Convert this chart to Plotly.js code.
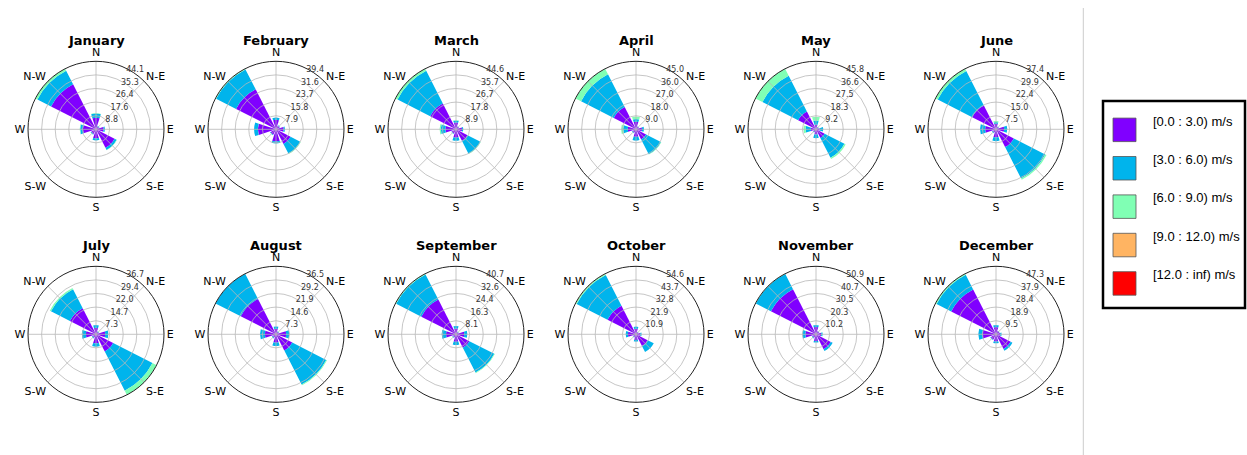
<!DOCTYPE html>
<html><head><meta charset="utf-8">
<script src="https://cdn.plot.ly/plotly-3.0.1.min.js"></script>
<style>html,body{margin:0;padding:0;background:#fff}</style>
</head><body><div id="chart" style="width:1247px;height:455px"></div>
<script>
const months = ['January','February','March','April','May','June','July','August','September','October','November','December'];
const directions = ['N','N-E','E','S-E','S','S-W','W','N-W'];
const speedBins = ['[0.0 : 3.0) m/s','[3.0 : 6.0) m/s','[6.0 : 9.0) m/s','[9.0 : 12.0) m/s','[12.0 : inf) m/s'];
const binColors = ['#8000ff','#00b4ec','#80ffb4','#ffb462','#ff0000'];

// frequency (%) per direction: N, N-E, E, S-E, S, S-W, W, N-W
const speed0to3 = [
  [7.5,2.0,5.0,13.5,6.0,3.5,8.5,32.7],
  [5.5,2.3,4.5,9.5,7.0,3.5,10.5,26.0],
  [4.5,2.0,4.0,8.5,5.5,3.0,7.0,19.0],
  [5.0,2.0,4.0,7.5,5.0,2.5,5.5,16.5],
  [3.0,1.5,2.5,6.5,3.5,2.0,3.5,13.5],
  [3.0,1.5,4.5,11.0,4.5,2.0,6.0,14.7],
  [3.5,1.5,5.0,10.4,5.0,2.0,5.5,15.8],
  [3.0,1.5,5.5,9.8,4.5,2.0,6.0,21.3],
  [3.5,1.5,5.0,9.0,4.5,2.0,6.0,23.3],
  [4.5,2.0,3.5,10.5,4.5,2.5,6.5,25.7],
  [5.5,2.5,4.0,12.5,5.0,3.0,8.0,37.9],
  [5.0,2.5,3.0,11.5,5.0,4.0,9.5,35.0]
];
const speed3to6 = [
  [2.7,0.5,0.8,1.5,1.2,0.5,1.8,9.9],
  [1.3,0.3,0.7,6.3,1.2,0.4,2.2,13.0],
  [1.3,0.3,0.8,9.5,2.0,0.5,3.0,24.0],
  [1.8,0.3,1.3,11.0,2.5,0.5,3.0,24.3],
  [3.0,0.5,2.4,15.0,2.5,0.5,3.5,27.0],
  [1.0,0.3,1.7,19.4,2.0,0.5,2.8,21.3],
  [1.5,0.3,1.7,23.8,1.7,0.5,2.2,11.5],
  [1.2,0.3,1.7,20.5,1.8,0.5,2.6,15.2],
  [1.5,0.3,1.8,16.7,1.9,0.5,2.6,16.9],
  [1.7,0.3,1.0,5.5,1.4,0.5,1.8,27.8],
  [1.5,0.3,1.0,1.5,1.2,0.5,2.2,12.7],
  [1.5,0.3,0.9,1.3,1.3,0.5,2.8,11.4]
];
const speed6to9 = [
  [0.3,0,0,0.2,0,0,0.3,1.47],
  [0,0,0,0.3,0,0,0,0.44],
  [0.3,0,0,0.2,0,0,0.8,1.58],
  [1.6,0,0,0.3,0,0,1.4,4.2],
  [2.5,0,0,0.9,0,0,1.5,5.3],
  [0.6,0,0,0.8,0,0,0,1.4],
  [0,0,0,2.5,0,0,0,0.7],
  [0,0,0,0.5,0,0,0,0.05],
  [0,0,0,0.4,0,0,0,0.5],
  [0,0,0,0,0,0,0,0.9],
  [0,0,0,0,0,0,0,0.3],
  [0,0,0,0,0,0,0,0.9]
];
const speed9to12 = [
  [0,0,0,0,0,0,0,0],[0,0,0,0,0,0,0,0],[0,0,0,0,0,0,0,0],[0,0,0,0,0,0,0,0],
  [0,0,0,0,0,0,0,0],[0,0,0,0,0,0,0,0],[0,0,0,0,0,0,0,0],[0,0,0,0,0,0,0,0],
  [0,0,0,0,0,0,0,0],[0,0,0,0,0,0,0,0.2],[0,0,0,0,0,0,0,0],[0,0,0,0,0,0,0,0]
];
const speed12up = [
  [0,0,0,0,0,0,0,0],[0,0,0,0,0,0,0,0],[0,0,0,0,0,0,0,0],[0,0,0,0,0,0,0,0],
  [0,0,0,0,0,0,0,0],[0,0,0,0,0,0,0,0],[0,0,0,0,0,0,0,0],[0,0,0,0,0,0,0,0],
  [0,0,0,0,0,0,0,0],[0,0,0,0,0,0,0,0],[0,0,0,0,0,0,0,0],[0,0,0,0,0,0,0,0]
];
const radialTickLabels = [
  ['8.8','17.6','26.4','35.3','44.1'],
  ['7.9','15.8','23.7','31.6','39.4'],
  ['8.9','17.8','26.7','35.7','44.6'],
  ['9.0','18.0','27.0','36.0','45.0'],
  ['9.2','18.3','27.5','36.6','45.8'],
  ['7.5','15.0','22.4','29.9','37.4'],
  ['7.3','14.7','22.0','29.4','36.7'],
  ['7.3','14.6','21.9','29.2','36.5'],
  ['8.1','16.3','24.4','32.6','40.7'],
  ['10.9','21.9','32.8','43.7','54.6'],
  ['10.2','20.3','30.5','40.7','50.9'],
  ['9.5','18.9','28.4','37.9','47.3']
];

const bins = [speed0to3, speed3to6, speed6to9, speed9to12, speed12up];

const W = 1247, H = 455;
const colCenters = [96, 276, 456, 636, 816, 996];
const rowCenters = [129.3, 334.3];
const R = 68;
const FONT = 'DejaVu Sans, sans-serif';
const GRID = '#b8b8b8';
// overlay subplot ids chosen so they are drawn after every base subplot
const overlayIds = ['polar90','polar91','polar92','polar93','polar94','polar95','polar96','polar97','polar98','polar99','polar990','polar991'];

const traces = [];
const layout = {
  width: W, height: H,
  margin: {l:0, r:0, t:0, b:0},
  paper_bgcolor: '#ffffff',
  showlegend: false,
  annotations: [],
  shapes: []
};

months.forEach((m, i) => {
  const pid = i === 0 ? 'polar' : 'polar' + (i + 1);
  const oid = overlayIds[i];
  const cx = colCenters[i % 6], cy = rowCenters[Math.floor(i / 6)];
  let rmax = 0;
  directions.forEach((d, k) => {
    let s = 0; bins.forEach(b => { s += b[i][k]; });
    rmax = Math.max(rmax, s);
  });
  bins.forEach((b, bi) => {
    traces.push({
      type: 'barpolar', subplot: pid,
      r: b[i], theta: directions,
      width: 0.8,
      name: speedBins[bi],
      marker: {color: binColors[bi], line: {width: 0}},
      hoverinfo: 'r+theta+name'
    });
  });
  // invisible trace that carries the grid/label overlay subplot
  traces.push({
    type: 'barpolar', subplot: oid,
    r: directions.map(() => 0), theta: directions,
    marker: {color: 'rgba(0,0,0,0)', line: {width: 0}},
    hoverinfo: 'skip'
  });
  const domain = {x: [(cx - R) / W, (cx + R) / W], y: [1 - (cy + R) / H, 1 - (cy - R) / H]};
  const radialBase = {
    range: [0, rmax],
    tickvals: [1,2,3,4,5].map(k => rmax * k / 5),
    ticktext: radialTickLabels[i],
    angle: 67.5, tickangle: 67.5, side: 'clockwise',
    showline: false, ticks: '',
    gridcolor: GRID, gridwidth: 0.8,
    tickfont: {family: FONT, size: 8, color: '#333'}
  };
  const angularBase = {
    type: 'category', categoryarray: directions,
    direction: 'clockwise', rotation: 90,
    ticks: '', gridcolor: GRID, gridwidth: 0.8,
    tickfont: {family: FONT, size: 11, color: '#000'}
  };
  layout[pid] = {
    domain: domain, bgcolor: 'rgba(0,0,0,0)', barmode: 'stack',
    radialaxis: Object.assign({}, radialBase, {showgrid: false, showticklabels: false}),
    angularaxis: Object.assign({}, angularBase, {showgrid: false, showticklabels: false, showline: false})
  };
  layout[oid] = {
    domain: domain, bgcolor: 'rgba(0,0,0,0)',
    radialaxis: Object.assign({}, radialBase),
    angularaxis: Object.assign({}, angularBase, {showline: true, linecolor: '#222', linewidth: 1})
  };
  layout.annotations.push({
    text: '<b>' + m + '</b>', xref: 'paper', yref: 'paper',
    x: cx / W, y: 1 - (cy - 88.8) / H, xanchor: 'center', yanchor: 'middle',
    showarrow: false, font: {family: FONT, size: 13, color: '#000'}
  });
});

layout.shapes.push({type:'line', xref:'paper', yref:'paper', x0:1083.3/W, x1:1083.3/W, y0:0, y1:1-8/H, line:{color:'#cccccc', width:1}});
layout.shapes.push({type:'rect', xref:'paper', yref:'paper', x0:1103/W, x1:1245/W, y0:1-308/H, y1:1-101/H, line:{color:'#000', width:2.5}, fillcolor:'#fff'});
speedBins.forEach((lab, bi) => {
  const top = 118.1 + bi * 38.4;
  layout.shapes.push({type:'rect', xref:'paper', yref:'paper', x0:1113/W, x1:1136/W, y0:1-(top+23.5)/H, y1:1-top/H, line:{color:'#555', width:0.8}, fillcolor:binColors[bi]});
  layout.annotations.push({text: lab, xref:'paper', yref:'paper', x:1151/W, y:1-(top+3)/H, xanchor:'left', yanchor:'middle', showarrow:false, font:{family:'Liberation Sans, Arial, sans-serif', size:13, color:'#000'}});
});

Plotly.newPlot('chart', traces, layout, {displayModeBar:false, staticPlot:true});
</script></body></html>
